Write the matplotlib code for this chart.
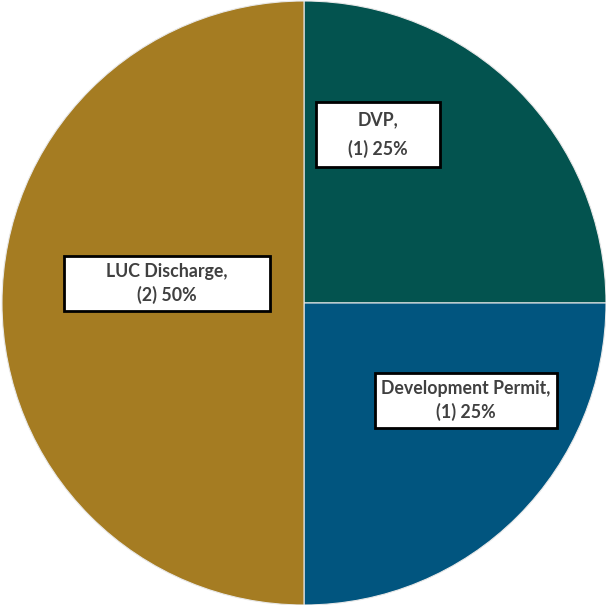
import matplotlib.pyplot as plt
from matplotlib.patches import Rectangle

categories = ['DVP', 'Development Permit', 'LUC Discharge']
counts = [1, 1, 2]
colors = ['#03534F', '#01557F', '#A57C22']

# label boxes in pie units (radius 1): centre x, centre y, width, height
label_boxes = [(0.245, 0.558, 0.411, 0.215),
               (0.536, -0.323, 0.603, 0.182),
               (-0.454, 0.065, 0.682, 0.182)]
line_gap = [1.75, 1.35, 1.35]

fig = plt.figure(figsize=(6.06, 6.05), dpi=100)
ax = fig.add_axes([0, 0, 1, 1])

total = sum(counts)
ax.pie(counts, colors=colors, startangle=90, counterclock=False,
       radius=1.0, wedgeprops=dict(edgecolor='#e8e8e8', linewidth=0.8))

for cat, n, (x, y, w, h), ls in zip(categories, counts, label_boxes, line_gap):
    pct = round(100 * n / total)
    ax.add_patch(Rectangle((x - w / 2, y - h / 2), w, h, facecolor='white',
                           edgecolor='black', linewidth=2, zorder=3))
    ax.text(x, y, f'{cat},\n({n}) {pct}%', ha='center', va='center',
            fontsize=12.8, fontweight='bold', color='#404040',
            family=['Lato', 'DejaVu Sans'], linespacing=ls, zorder=4)

ax.set_xlim(-304 / 302, 302 / 302)
ax.set_ylim(-302 / 302, 303 / 302)
ax.set_aspect('equal')
ax.axis('off')

fig.savefig('out.png', dpi=100)
